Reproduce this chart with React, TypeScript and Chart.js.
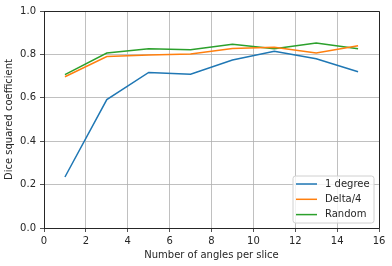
import React, { useEffect, useRef } from "react";
import { Chart, registerables } from "chart.js";

Chart.register(...registerables);

const xValues = [1, 3, 5, 7, 9, 11, 13, 15];
const oneDegree = [0.235, 0.592, 0.717, 0.709, 0.774, 0.815, 0.78, 0.72];
const delta4 = [0.697, 0.79, 0.797, 0.802, 0.827, 0.833, 0.806, 0.84];
const randomVals = [0.707, 0.806, 0.826, 0.821, 0.847, 0.826, 0.853, 0.826];
const seriesLabels = ["1 degree", "Delta/4", "Random"];
const seriesColors = ["#1f77b4", "#ff7f0e", "#2ca02c"];
const xTitle = "Number of angles per slice";
const yTitle = "Dice squared coefficient";

const FONT = "'DejaVu Sans', sans-serif";

const legendPlugin = {
  id: "insideLegend",
  afterDraw(chart: any) {
    const { ctx, chartArea } = chart;
    const w = 81;
    const h = 47;
    const x = chartArea.right - 5 - w;
    const y = chartArea.bottom - 5 - h;
    ctx.save();
    ctx.beginPath();
    const r = 2.5;
    ctx.moveTo(x + r, y);
    ctx.lineTo(x + w - r, y);
    ctx.quadraticCurveTo(x + w, y, x + w, y + r);
    ctx.lineTo(x + w, y + h - r);
    ctx.quadraticCurveTo(x + w, y + h, x + w - r, y + h);
    ctx.lineTo(x + r, y + h);
    ctx.quadraticCurveTo(x, y + h, x, y + h - r);
    ctx.lineTo(x, y + r);
    ctx.quadraticCurveTo(x, y, x + r, y);
    ctx.closePath();
    ctx.fillStyle = "rgba(255,255,255,0.8)";
    ctx.fill();
    ctx.strokeStyle = "#d0d0d0";
    ctx.lineWidth = 1;
    ctx.stroke();
    ctx.font = `10px ${FONT}`;
    ctx.textBaseline = "middle";
    ctx.textAlign = "left";
    chart.data.datasets.forEach((ds: any, i: number) => {
      const ly = y + 8 + i * 15.3;
      ctx.strokeStyle = ds.borderColor;
      ctx.lineWidth = 1.5;
      ctx.beginPath();
      ctx.moveTo(x + 3, ly);
      ctx.lineTo(x + 24, ly);
      ctx.stroke();
      ctx.fillStyle = "#262626";
      ctx.fillText(ds.label, x + 32, ly);
    });
    ctx.restore();
  },
};

export default function App() {
  const ref = useRef<HTMLCanvasElement>(null);
  useEffect(() => {
    const series = [oneDegree, delta4, randomVals];
    const chart = new Chart(ref.current!, {
      type: "line",
      data: {
        datasets: series.map((vals, i) => ({
          label: seriesLabels[i],
          data: xValues.map((x, j) => ({ x, y: vals[j] })),
          borderColor: seriesColors[i],
          backgroundColor: seriesColors[i],
          borderWidth: 1.5,
          pointRadius: 0,
          tension: 0,
          fill: false,
        })),
      },
      options: {
        animation: false,
        responsive: false,
        layout: { padding: { top: 11, right: 13, left: 3, bottom: 0 } },
        plugins: { legend: { display: false }, tooltip: { enabled: false } },
        scales: {
          x: {
            type: "linear",
            min: 0,
            max: 16,
            ticks: {
              stepSize: 2,
              color: "#262626",
              font: { family: FONT, size: 10 },
              padding: 3,
              maxRotation: 0,
            },
            grid: { color: "#b0b0b0", tickColor: "#262626", tickLength: 4, lineWidth: 0.8 },
            border: { display: true, color: "#262626", width: 1 },
            title: {
              display: true,
              text: xTitle,
              color: "#262626",
              font: { family: FONT, size: 10 },
              padding: { top: 2, bottom: 5 },
            },
            afterFit: (s: any) => {
              s.height = 38;
            },
          },
          y: {
            min: 0,
            max: 1,
            ticks: {
              stepSize: 0.2,
              color: "#262626",
              font: { family: FONT, size: 10 },
              padding: 4,
              callback: (v: any) => Number(v).toFixed(1),
            },
            grid: { color: "#b0b0b0", tickColor: "#262626", tickLength: 4, lineWidth: 0.8 },
            border: { display: true, color: "#262626", width: 1 },
            title: {
              display: true,
              text: yTitle,
              color: "#262626",
              font: { family: FONT, size: 10 },
              padding: { top: 0, bottom: 2 },
            },
            afterFit: (s: any) => {
              s.width = 41;
            },
          },
        },
      },
      plugins: [
        legendPlugin,
        {
          id: "rightTopBorder",
          afterDraw(chart: any) {
            const { ctx, chartArea } = chart;
            ctx.save();
            ctx.strokeStyle = "#262626";
            ctx.lineWidth = 1;
            ctx.beginPath();
            ctx.moveTo(chartArea.left, chartArea.top + 0.5);
            ctx.lineTo(chartArea.right + 0.5, chartArea.top + 0.5);
            ctx.lineTo(chartArea.right + 0.5, chartArea.bottom);
            ctx.stroke();
            ctx.restore();
          },
        },
      ],
    });
    return () => chart.destroy();
  }, []);
  return (
    <div style={{ position: "absolute", left: 0, top: 0, width: 392, height: 266, background: "#fff" }}>
      <canvas ref={ref} width={392} height={266} style={{ width: 392, height: 266 }} />
    </div>
  );
}
